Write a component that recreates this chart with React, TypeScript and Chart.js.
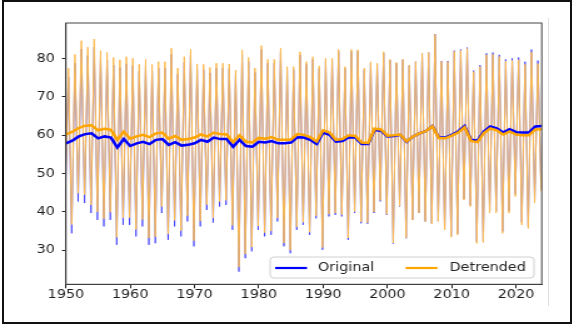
import React, { useEffect, useRef } from "react";
import { Chart, registerables } from "chart.js";

Chart.register(...registerables);

// ---- data ----
const years = [
  1950, 1951, 1952, 1953, 1954, 1955, 1956, 1957, 1958, 1959,
  1960, 1961, 1962, 1963, 1964, 1965, 1966, 1967, 1968, 1969,
  1970, 1971, 1972, 1973, 1974, 1975, 1976, 1977, 1978, 1979,
  1980, 1981, 1982, 1983, 1984, 1985, 1986, 1987, 1988, 1989,
  1990, 1991, 1992, 1993, 1994, 1995, 1996, 1997, 1998, 1999,
  2000, 2001, 2002, 2003, 2004, 2005, 2006, 2007, 2008, 2009,
  2010, 2011, 2012, 2013, 2014, 2015, 2016, 2017, 2018, 2019,
  2020, 2021, 2022, 2023, 2024,
];

// summer highs (one per year, 1950..2023)
const peakOriginal = [
  75.2, 78.8, 82.5, 80.8, 83.0, 80.0, 79.6, 78.3, 77.7, 78.6,
  78.2, 76.7, 78.0, 76.7, 77.5, 77.5, 81.1, 75.9, 79.0, 80.9,
  77.1, 77.1, 76.3, 77.5, 77.5, 77.4, 75.8, 81.1, 79.2, 76.4,
  82.4, 78.8, 78.8, 81.8, 77.0, 77.1, 81.0, 78.5, 79.8, 77.4,
  79.5, 79.5, 81.9, 77.4, 81.9, 81.9, 77.1, 78.9, 78.5, 81.5,
  79.6, 78.8, 79.7, 78.2, 79.2, 81.4, 81.6, 86.4, 79.4, 79.4,
  82.1, 82.4, 82.9, 76.9, 78.3, 81.4, 81.6, 81.0, 79.8, 80.1,
  80.3, 79.2, 82.4, 79.5,
];
const peakDetrended = [
  77.5, 81.1, 84.7, 83.0, 85.1, 82.1, 81.6, 80.3, 79.7, 80.5,
  80.1, 78.5, 79.8, 78.5, 79.2, 79.2, 82.7, 77.5, 80.5, 82.4,
  78.6, 78.5, 77.7, 78.8, 78.8, 78.6, 77.0, 82.3, 80.3, 77.5,
  83.4, 79.8, 79.8, 82.7, 77.9, 77.9, 81.8, 79.2, 80.5, 78.1,
  80.1, 80.1, 82.4, 77.9, 82.4, 82.3, 77.5, 79.2, 78.8, 81.8,
  79.8, 79.0, 79.8, 78.3, 79.2, 81.4, 81.6, 86.3, 79.3, 79.2,
  81.9, 82.1, 82.6, 76.6, 77.9, 81.0, 81.1, 80.5, 79.3, 79.5,
  79.7, 78.5, 81.7, 78.7,
];

// winter lows (one per year, 1950..2024)
const troughOriginal = [
  44.0, 34.4, 42.7, 42.3, 39.7, 37.9, 36.2, 37.9, 31.4, 36.6,
  36.6, 33.6, 36.2, 31.4, 31.8, 39.7, 32.7, 36.2, 33.6, 37.5,
  31.0, 36.2, 40.5, 37.2, 41.4, 41.8, 35.3, 24.4, 27.9, 29.7,
  35.3, 33.6, 34.0, 37.5, 31.0, 29.2, 35.3, 36.6, 34.0, 38.3,
  30.1, 38.8, 39.2, 38.8, 32.7, 39.7, 37.0, 36.9, 39.7, 42.7,
  39.2, 31.7, 41.4, 33.1, 37.9, 39.7, 37.5, 37.0, 37.6, 35.5,
  33.6, 34.3, 43.4, 41.7, 32.2, 32.4, 40.2, 40.2, 34.9, 40.3,
  44.6, 37.3, 36.4, 43.1, 46.3,
];
const troughDetrended = [
  46.3, 36.7, 44.9, 44.5, 41.8, 40.0, 38.2, 39.9, 33.4, 38.5,
  38.5, 35.4, 38.0, 33.2, 33.5, 41.4, 34.3, 37.8, 35.1, 39.0,
  32.5, 37.6, 41.9, 38.5, 42.7, 43.0, 36.5, 25.6, 29.0, 30.8,
  36.3, 34.6, 35.0, 38.4, 31.9, 30.0, 36.1, 37.3, 34.7, 39.0,
  30.7, 39.4, 39.7, 39.3, 33.2, 40.1, 37.4, 37.2, 40.0, 43.0,
  39.4, 31.9, 41.5, 33.2, 37.9, 39.7, 37.5, 36.9, 37.5, 35.3,
  33.4, 34.0, 43.1, 41.4, 31.8, 32.0, 39.7, 39.7, 34.4, 39.7,
  44.0, 36.6, 35.7, 42.3, 45.5,
];

// yearly rolling means (1950..2024)
const meanOriginal = [
  57.9, 58.6, 59.7, 60.3, 60.5, 59.2, 59.7, 59.4, 56.8, 59.0,
  57.2, 57.9, 58.3, 57.7, 58.8, 59.0, 57.5, 58.2, 57.3, 57.5,
  57.9, 58.8, 58.3, 59.4, 59.0, 59.0, 57.0, 58.8, 57.2, 57.0,
  58.3, 58.1, 58.5, 57.9, 57.9, 58.1, 59.5, 59.4, 58.8, 57.7,
  60.7, 60.1, 58.3, 58.5, 59.5, 59.4, 57.7, 57.7, 61.4, 61.2,
  59.7, 59.8, 60.1, 58.3, 59.7, 60.5, 61.1, 62.4, 59.4, 59.4,
  60.1, 61.0, 62.4, 58.8, 58.6, 61.0, 62.3, 61.8, 60.7, 61.6,
  60.8, 60.7, 60.7, 62.3, 62.4,
];
const meanDetrended = [
  60.2, 60.9, 61.9, 62.5, 62.6, 61.3, 61.7, 61.4, 58.8, 60.9,
  59.1, 59.7, 60.1, 59.5, 60.5, 60.7, 59.1, 59.8, 58.8, 59.0,
  59.4, 60.2, 59.7, 60.7, 60.3, 60.2, 58.2, 60.0, 58.3, 58.1,
  59.3, 59.1, 59.5, 58.8, 58.8, 58.9, 60.3, 60.1, 59.5, 58.4,
  61.3, 60.7, 58.8, 59.0, 60.0, 59.8, 58.1, 58.0, 61.7, 61.5,
  59.9, 60.0, 60.2, 58.4, 59.7, 60.5, 61.1, 62.3, 59.3, 59.2,
  59.9, 60.7, 62.1, 58.5, 58.2, 60.6, 61.8, 61.3, 60.2, 61.0,
  60.2, 60.0, 60.0, 61.5, 61.6,
];

const seriesLabels = ["Original", "Detrended"];
const xTicks = [1950, 1960, 1970, 1980, 1990, 2000, 2010, 2020];
const yTicks = [30, 40, 50, 60, 70, 80];
const X_MIN = 1950;
const X_MAX = 2024;
const Y_MIN = 21.1;
const Y_MAX = 89.3;
// seasonal timing within a year
const PEAK_PHASE = 0.4;
const TROUGH_PHASE = -0.1;

const BLUE = "#0000ff";
const ORANGE = "#ffa500";
const FONT = "DejaVu Sans";

// canvas is drawn narrower then stretched to match the reference's horizontal stretch
const CANVAS_W = 459;
const CANVAS_H = 324;
const CSS_W = 574;

function spikes(troughs: number[], peaks: number[]) {
  const pts: { x: number; y: number }[] = [];
  troughs.forEach((t, i) => {
    pts.push({ x: years[i] + TROUGH_PHASE, y: t });
    if (i < peaks.length) pts.push({ x: years[i] + PEAK_PHASE, y: peaks[i] });
  });
  return pts;
}

function means(vals: number[]) {
  return vals.map((v, i) => ({ x: years[i], y: v }));
}

const framePlugin = {
  id: "frame",
  afterDatasetsDraw(chart: any) {
    const { ctx, chartArea: a } = chart;
    ctx.save();
    ctx.strokeStyle = "#444";
    ctx.lineWidth = 1;
    ctx.strokeRect(a.left, a.top, a.right - a.left, a.bottom - a.top);
    ctx.restore();
  },
};

const legendPlugin = {
  id: "customLegend",
  afterDraw(chart: any) {
    const { ctx, chartArea: a } = chart;
    const bw = 211;
    const bh = 21;
    const bx = a.right - 6.2 - bw;
    const by = a.bottom - 6.3 - bh;
    ctx.save();
    ctx.beginPath();
    const r = 3;
    ctx.moveTo(bx + r, by);
    ctx.lineTo(bx + bw - r, by);
    ctx.quadraticCurveTo(bx + bw, by, bx + bw, by + r);
    ctx.lineTo(bx + bw, by + bh - r);
    ctx.quadraticCurveTo(bx + bw, by + bh, bx + bw - r, by + bh);
    ctx.lineTo(bx + r, by + bh);
    ctx.quadraticCurveTo(bx, by + bh, bx, by + bh - r);
    ctx.lineTo(bx, by + r);
    ctx.quadraticCurveTo(bx, by, bx + r, by);
    ctx.closePath();
    ctx.fillStyle = "rgba(255,255,255,0.85)";
    ctx.fill();
    ctx.strokeStyle = "#d0d0d0";
    ctx.lineWidth = 1;
    ctx.stroke();

    const cy = by + bh / 2 + 0.5;
    const items = [
      { label: seriesLabels[0], color: BLUE, lx: 4, tx: 38.3 },
      { label: seriesLabels[1], color: ORANGE, lx: 108.3, tx: 143.5 },
    ];
    ctx.font = `11.5px "${FONT}"`;
    ctx.textBaseline = "middle";
    ctx.textAlign = "left";
    items.forEach((it) => {
      ctx.beginPath();
      ctx.strokeStyle = it.color;
      ctx.lineWidth = 2.2;
      ctx.moveTo(bx + it.lx, cy);
      ctx.lineTo(bx + it.lx + 25.5, cy);
      ctx.stroke();
      ctx.fillStyle = "#222";
      ctx.fillText(it.label, bx + it.tx, cy);
    });
    ctx.restore();
  },
};

function TimeSeriesChart() {
  const ref = useRef<HTMLCanvasElement | null>(null);
  useEffect(() => {
    const canvas = ref.current;
    if (!canvas) return;
    const chart = new Chart(canvas, {
      type: "line",
      data: {
        datasets: [
          {
            label: "Detrended mean",
            data: means(meanDetrended),
            borderColor: ORANGE,
            borderWidth: 2.5,
          },
          {
            label: "Original mean",
            data: means(meanOriginal),
            borderColor: BLUE,
            borderWidth: 2.5,
          },
          {
            label: seriesLabels[1],
            data: spikes(troughDetrended, peakDetrended),
            borderColor: "#fbb94f",
            borderWidth: 1,
          },
          {
            label: seriesLabels[0],
            data: spikes(troughOriginal, peakOriginal),
            borderColor: "rgba(40,40,255,0.85)",
            borderWidth: 0.8,
          },
        ],
      },
      options: {
        responsive: false,
        maintainAspectRatio: false,
        animation: false,
        devicePixelRatio: 1,
        layout: { padding: { left: 0, right: 25.8, top: 23, bottom: 0 } },
        elements: {
          point: { radius: 0, hoverRadius: 0 },
          line: { tension: 0, fill: false },
        },
        plugins: {
          legend: { display: false },
          tooltip: { enabled: false },
        },
        scales: {
          x: {
            type: "linear",
            min: X_MIN,
            max: X_MAX,
            afterBuildTicks: (s: any) => {
              s.ticks = xTicks.map((v) => ({ value: v }));
            },
            afterFit: (s: any) => {
              s.height = 39.7;
            },
            ticks: {
              autoSkip: false,
              maxRotation: 0,
              padding: 0,
              color: "#1e1e1e",
              font: { family: FONT, size: 11.5 },
              callback: (v: any) => String(v),
            },
            grid: {
              drawOnChartArea: false,
              drawTicks: true,
              tickLength: 4,
              color: "#222",
              lineWidth: 1,
            },
            border: { display: true, color: "#333", width: 1 },
          },
          y: {
            type: "linear",
            min: Y_MIN,
            max: Y_MAX,
            afterBuildTicks: (s: any) => {
              s.ticks = yTicks.map((v) => ({ value: v }));
            },
            afterFit: (s: any) => {
              s.width = 52.7;
            },
            ticks: {
              padding: 5.6,
              color: "#1e1e1e",
              font: { family: FONT, size: 11.5 },
              callback: (v: any) => String(v),
            },
            grid: {
              drawOnChartArea: false,
              drawTicks: true,
              tickLength: 3.2,
              color: "#222",
              lineWidth: 1,
            },
            border: { display: true, color: "#333", width: 1 },
          },
        },
      },
      plugins: [framePlugin, legendPlugin],
    });
    return () => chart.destroy();
  }, []);

  return (
    <canvas
      ref={ref}
      width={CANVAS_W}
      height={CANVAS_H}
      style={{
        position: "absolute",
        left: 0,
        top: 0,
        width: CSS_W + "px",
        height: CANVAS_H + "px",
      }}
    />
  );
}

export default function App() {
  return (
    <div
      style={{
        position: "fixed",
        left: 0,
        top: 0,
        width: 574,
        height: 324,
        background: "#fff",
        overflow: "hidden",
      }}
    >
      <TimeSeriesChart />
      <div
        style={{
          position: "absolute",
          left: 548,
          top: 18,
          width: 1,
          height: 288,
          background: "#dedede",
        }}
      />
      <div
        style={{
          position: "absolute",
          left: 2,
          top: 0,
          width: 570,
          height: 324,
          border: "2px solid #111",
          boxSizing: "border-box",
          pointerEvents: "none",
        }}
      />
    </div>
  );
}
